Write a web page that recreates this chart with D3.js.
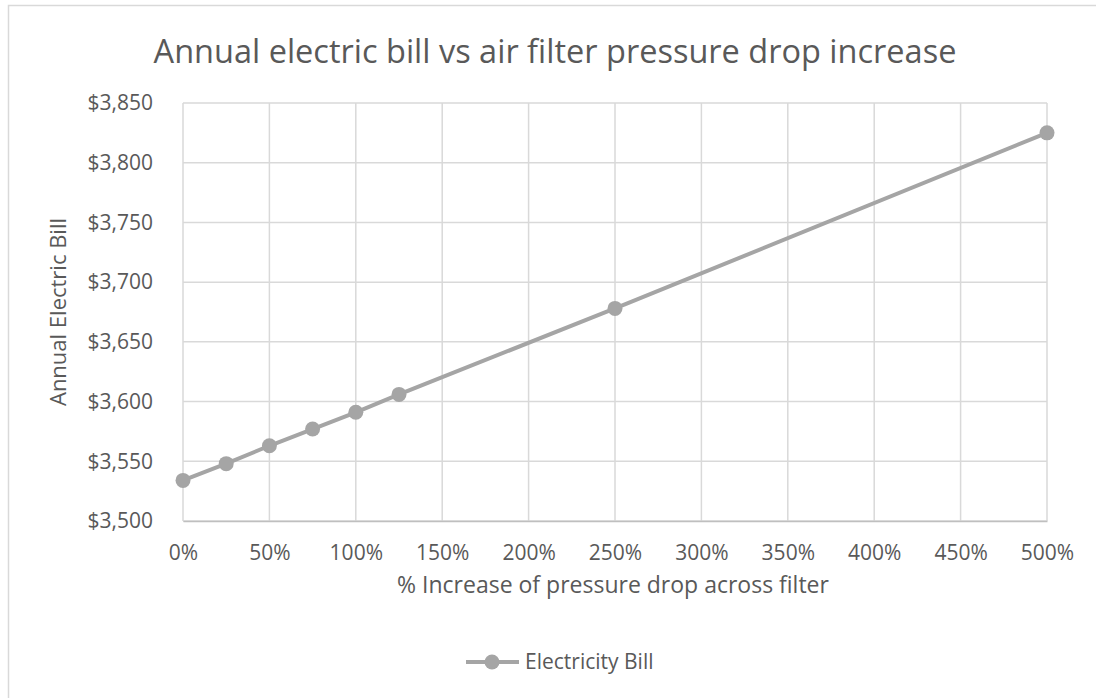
<!DOCTYPE html>
<html>
<head>
<meta charset="utf-8">
<script src="https://cdn.jsdelivr.net/npm/d3@7"></script>
<style>
  body { margin: 0; background: #fff; }
  text { font-family: "Open Sans", sans-serif; fill: #595959; }
</style>
</head>
<body>
<div id="chart"></div>
<script>
// data
var pctIncrease = [0, 25, 50, 75, 100, 125, 250, 500];
var annualBill = [3534, 3548, 3563, 3577, 3591, 3606, 3678, 3825];
var xTicks = [0, 50, 100, 150, 200, 250, 300, 350, 400, 450, 500];
var yTicks = [3500, 3550, 3600, 3650, 3700, 3750, 3800, 3850];
var seriesName = "Electricity Bill";

var W = 1096, H = 698;
var margin = {top: 103, right: 49, bottom: 177, left: 183},
    width = W - margin.left - margin.right,
    height = H - margin.top - margin.bottom;

var svg = d3.select("#chart")
  .append("svg")
    .attr("width", W)
    .attr("height", H);

// chart border
svg.append("rect")
  .attr("x", 8.5).attr("y", 5.5)
  .attr("width", W + 20).attr("height", H + 20)
  .style("fill", "none")
  .style("stroke", "#d9d9d9")
  .style("stroke-width", 1.5);

// title
svg.append("text")
  .attr("x", 555)
  .attr("y", 63)
  .attr("text-anchor", "middle")
  .style("font-size", "32.5px")
  .text("Annual electric bill vs air filter pressure drop increase");

var g = svg.append("g")
  .attr("transform", "translate(" + margin.left + "," + margin.top + ")");

var x = d3.scaleLinear()
  .domain([0, 500])
  .range([0, width]);

var y = d3.scaleLinear()
  .domain([3500, 3850])
  .range([height, 0]);

// gridlines
g.append("g")
  .selectAll("line")
  .data(yTicks)
  .enter()
  .append("line")
    .attr("x1", 0).attr("x2", width)
    .attr("y1", function(d) { return y(d); })
    .attr("y2", function(d) { return y(d); })
    .style("stroke", "#d9d9d9")
    .style("stroke-width", 1.5);

g.append("g")
  .selectAll("line")
  .data(xTicks)
  .enter()
  .append("line")
    .attr("x1", function(d) { return x(d); })
    .attr("x2", function(d) { return x(d); })
    .attr("y1", 0).attr("y2", height)
    .style("stroke", "#d9d9d9")
    .style("stroke-width", 1.5);

// x axis
var xAxis = g.append("g")
  .attr("transform", "translate(0," + height + ")")
  .call(d3.axisBottom(x).tickValues(xTicks).tickSize(0).tickPadding(24)
    .tickFormat(function(d) { return d + "%"; }));
xAxis.select(".domain").style("stroke", "#bfbfbf").style("stroke-width", 1.5);
xAxis.selectAll("text")
  .style("font-size", "21px")
  .style("font-family", "'Open Sans', sans-serif")
  .style("fill", "#595959");

// y axis
var yAxis = g.append("g")
  .call(d3.axisLeft(y).tickValues(yTicks).tickSize(0).tickPadding(30)
    .tickFormat(d3.format("$,")));
yAxis.select(".domain").remove();
yAxis.selectAll("text")
  .style("font-size", "21px")
  .style("font-family", "'Open Sans', sans-serif")
  .style("fill", "#595959");

// axis titles
svg.append("text")
  .attr("x", 613)
  .attr("y", 593)
  .attr("text-anchor", "middle")
  .style("font-size", "23px")
  .text("% Increase of pressure drop across filter");

svg.append("text")
  .attr("transform", "translate(66," + (margin.top + height / 2) + ")rotate(-90)")
  .attr("text-anchor", "middle")
  .style("font-size", "22px")
  .text("Annual Electric Bill");

// line + markers
var line = d3.line()
  .x(function(d, i) { return x(pctIncrease[i]); })
  .y(function(d) { return y(d); });

g.append("path")
  .datum(annualBill)
  .attr("d", line)
  .style("fill", "none")
  .style("stroke", "#a5a5a5")
  .style("stroke-width", 4);

g.append("g")
  .selectAll("circle")
  .data(annualBill)
  .enter()
  .append("circle")
    .attr("cx", function(d, i) { return x(pctIncrease[i]); })
    .attr("cy", function(d) { return y(d); })
    .attr("r", 7.5)
    .style("fill", "#a5a5a5");

// legend
var legY = 662;
svg.append("line")
  .attr("x1", 466).attr("x2", 519)
  .attr("y1", legY).attr("y2", legY)
  .style("stroke", "#a5a5a5")
  .style("stroke-width", 4);
svg.append("circle")
  .attr("cx", 492).attr("cy", legY)
  .attr("r", 7.5)
  .style("fill", "#a5a5a5");
svg.append("text")
  .attr("x", 525)
  .attr("y", 669)
  .style("font-size", "21px")
  .text(seriesName);
</script>
</body>
</html>
